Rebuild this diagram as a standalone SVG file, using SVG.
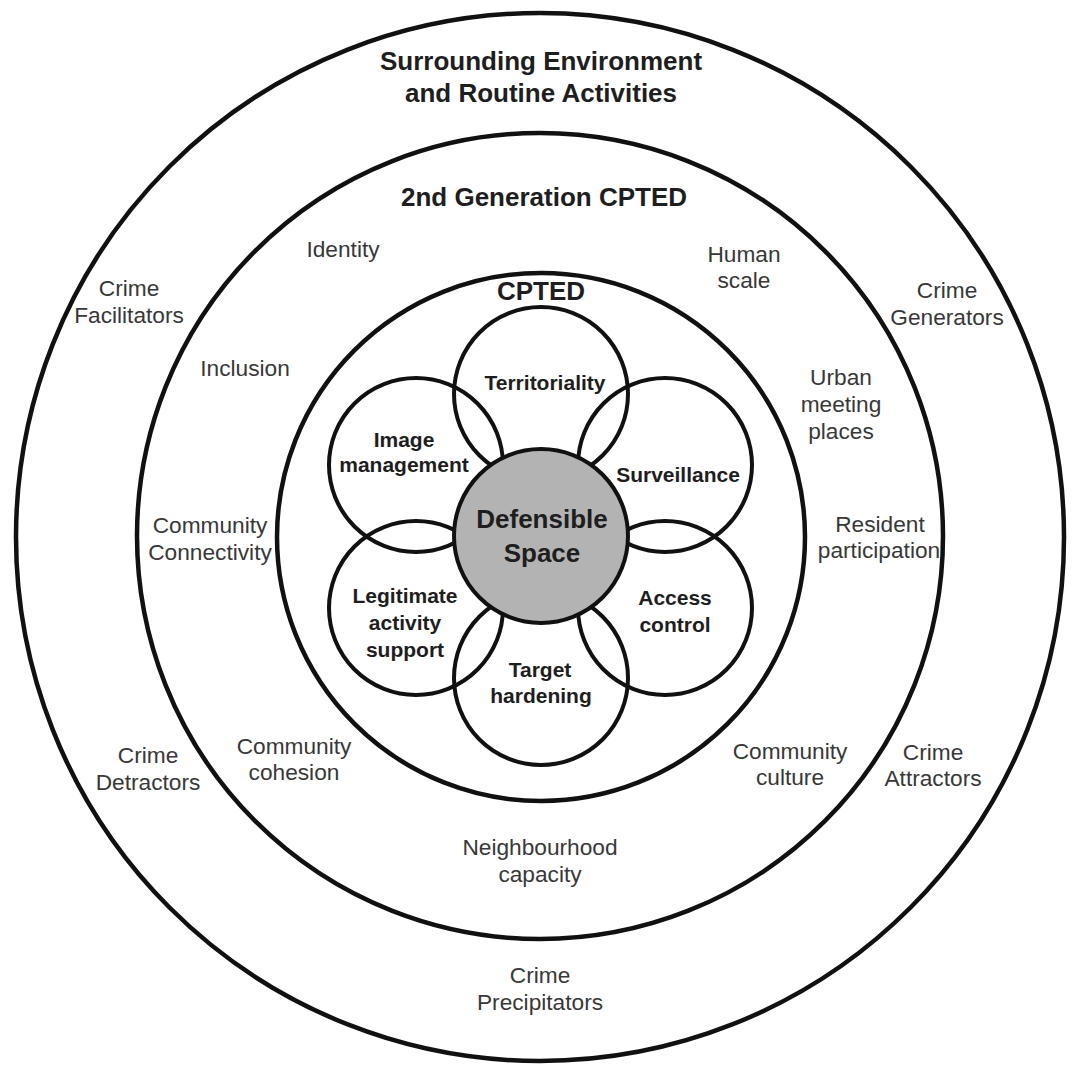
<svg xmlns="http://www.w3.org/2000/svg" width="1080" height="1076" viewBox="0 0 1080 1076">
<style>
.ring{fill:none;stroke:#111;stroke-width:4.5}
.petal{fill:none;stroke:#111;stroke-width:4}
.core{fill:#b3b3b3;stroke:#111;stroke-width:4}
.title{font-family:"Liberation Sans",Arial,sans-serif;font-weight:bold;font-size:26px;fill:#1e1e1e;text-anchor:middle}
.lbl{font-family:"Liberation Sans",Arial,sans-serif;font-size:22.7px;fill:#383838;text-anchor:middle}
.plbl{font-family:"Liberation Sans",Arial,sans-serif;font-weight:bold;font-size:21px;fill:#1e1e1e;text-anchor:middle}
.core-lbl{font-family:"Liberation Sans",Arial,sans-serif;font-weight:bold;font-size:26px;fill:#1e1e1e;text-anchor:middle}
</style>
<rect width="1080" height="1076" fill="#ffffff"/>

<g id="surrounding-environment">
  <circle class="ring" cx="540" cy="537" r="524"/>
  <text class="title" x="541" y="70">Surrounding Environment</text>
  <text class="title" x="541" y="102">and Routine Activities</text>
</g>

<g id="second-generation-cpted">
  <circle class="ring" cx="540" cy="536" r="403"/>
  <text class="title" x="544" y="206">2nd Generation CPTED</text>
</g>

<g id="cpted">
  <circle class="ring" cx="541" cy="537" r="264"/>
  <text class="title" x="541" y="300">CPTED</text>
</g>

<g id="outer-labels">
  <g id="crime-facilitators"><text class="lbl" x="129" y="296">Crime</text><text class="lbl" x="129" y="323">Facilitators</text></g>
  <g id="crime-generators"><text class="lbl" x="947" y="298">Crime</text><text class="lbl" x="947" y="325">Generators</text></g>
  <g id="crime-detractors"><text class="lbl" x="148" y="763">Crime</text><text class="lbl" x="148" y="790">Detractors</text></g>
  <g id="crime-attractors"><text class="lbl" x="933" y="760">Crime</text><text class="lbl" x="933" y="786">Attractors</text></g>
  <g id="crime-precipitators"><text class="lbl" x="540" y="983">Crime</text><text class="lbl" x="540" y="1010">Precipitators</text></g>
</g>

<g id="second-gen-labels">
  <g id="identity"><text class="lbl" x="343" y="257">Identity</text></g>
  <g id="human-scale"><text class="lbl" x="744" y="262">Human</text><text class="lbl" x="744" y="288">scale</text></g>
  <g id="inclusion"><text class="lbl" x="245" y="376">Inclusion</text></g>
  <g id="urban-meeting-places"><text class="lbl" x="841" y="385">Urban</text><text class="lbl" x="841" y="412">meeting</text><text class="lbl" x="841" y="439">places</text></g>
  <g id="community-connectivity"><text class="lbl" x="210" y="533">Community</text><text class="lbl" x="210" y="560">Connectivity</text></g>
  <g id="resident-participation"><text class="lbl" x="880" y="532">Resident</text><text class="lbl" x="879" y="558">participation</text></g>
  <g id="community-cohesion"><text class="lbl" x="294" y="754">Community</text><text class="lbl" x="294" y="780">cohesion</text></g>
  <g id="community-culture"><text class="lbl" x="790" y="759">Community</text><text class="lbl" x="790" y="785">culture</text></g>
  <g id="neighbourhood-capacity"><text class="lbl" x="540" y="855">Neighbourhood</text><text class="lbl" x="540" y="882">capacity</text></g>
</g>

<g id="petals">
  <g id="territoriality"><circle class="petal" cx="541" cy="394" r="87"/><text class="plbl" x="545" y="390">Territoriality</text></g>
  <g id="surveillance"><circle class="petal" cx="665" cy="465" r="87"/><text class="plbl" x="678" y="482">Surveillance</text></g>
  <g id="access-control"><circle class="petal" cx="665" cy="608" r="87"/><text class="plbl" x="675" y="605">Access</text><text class="plbl" x="675" y="632">control</text></g>
  <g id="target-hardening"><circle class="petal" cx="541" cy="678" r="87"/><text class="plbl" x="540" y="677">Target</text><text class="plbl" x="541" y="703">hardening</text></g>
  <g id="legitimate-activity-support"><circle class="petal" cx="416" cy="608" r="87"/><text class="plbl" x="405" y="603">Legitimate</text><text class="plbl" x="405" y="630">activity</text><text class="plbl" x="405" y="657">support</text></g>
  <g id="image-management"><circle class="petal" cx="416" cy="465" r="87"/><text class="plbl" x="404" y="447">Image</text><text class="plbl" x="404" y="472">management</text></g>
</g>

<g id="defensible-space">
  <circle class="core" cx="541" cy="536" r="87"/>
  <text class="core-lbl" x="542" y="528">Defensible</text>
  <text class="core-lbl" x="542" y="562">Space</text>
</g>
</svg>
